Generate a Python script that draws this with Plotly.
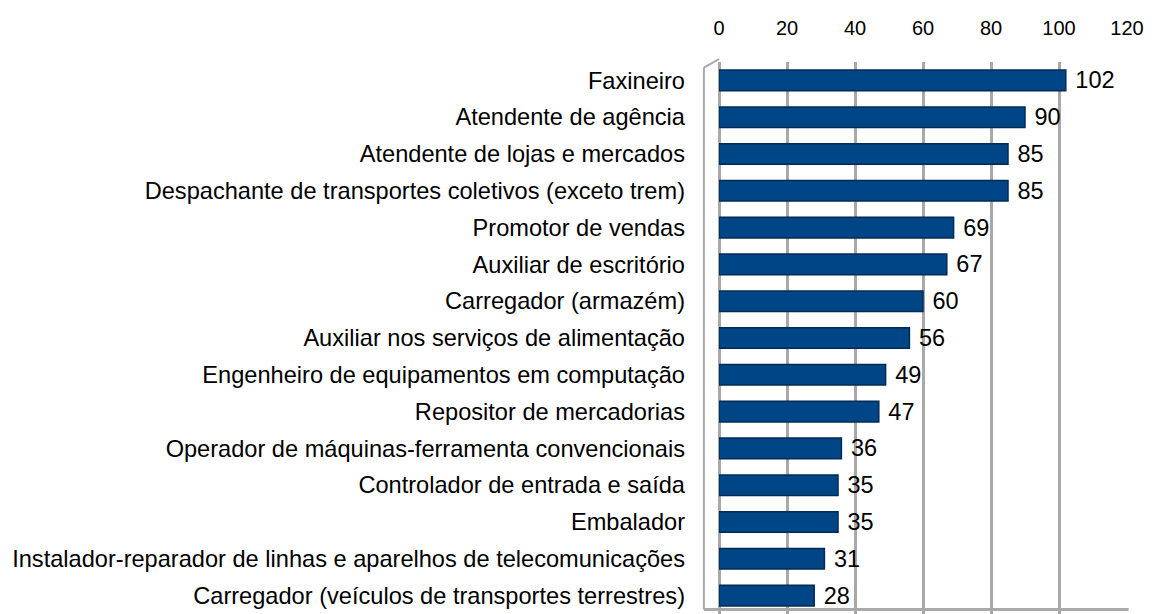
import plotly.graph_objects as go

categories = [
    "Faxineiro",
    "Atendente de agência",
    "Atendente de lojas e mercados",
    "Despachante de transportes coletivos (exceto trem)",
    "Promotor de vendas",
    "Auxiliar de escritório",
    "Carregador (armazém)",
    "Auxiliar nos serviços de alimentação",
    "Engenheiro de equipamentos em computação",
    "Repositor de mercadorias",
    "Operador de máquinas-ferramenta convencionais",
    "Controlador de entrada e saída",
    "Embalador",
    "Instalador-reparador de linhas e aparelhos de telecomunicações",
    "Carregador (veículos de transportes terrestres)",
]
values = [102, 90, 85, 85, 69, 67, 60, 56, 49, 47, 36, 35, 35, 31, 28]
x_ticks = [0, 20, 40, 60, 80, 100, 120]

FONT = "Liberation Sans, Arial, sans-serif"
GRID = "#a9a9a9"

fig = go.Figure()
fig.add_trace(go.Bar(
    y=categories,
    x=values,
    orientation="h",
    width=0.56,
    marker=dict(color="#004586", line=dict(color="#002b55", width=1.5)),
    text=[" " + str(v) for v in values],
    textposition="outside",
    constraintext="none",
    textfont=dict(size=23.5, color="black", family=FONT),
    cliponaxis=False,
    hoverinfo="x+y",
))

# page body has an 8px margin, so the figure is sized/offset to compensate
fig.update_layout(
    width=1144,
    height=606,
    margin=dict(l=711, r=25, t=54, b=0),
    paper_bgcolor="white",
    plot_bgcolor="white",
    showlegend=False,
    font=dict(family=FONT, size=20, color="black"),
)
fig.update_xaxes(
    range=[0, 120],
    tickvals=x_ticks,
    side="top",
    showgrid=True,
    gridcolor=GRID,
    gridwidth=3,
    zeroline=True,
    zerolinecolor=GRID,
    zerolinewidth=3,
    showline=False,
    ticklabelstandoff=22,
    tickfont=dict(size=20),
    automargin=False,
)
fig.update_yaxes(
    categoryorder="array",
    categoryarray=categories[::-1],
    showgrid=False,
    showline=False,
    zeroline=False,
    ticklabelstandoff=33,
    tickfont=dict(size=23.6),
    automargin=False,
)
# floor line and left wall (3D frame look)
fig.add_shape(type="line", xref="paper", yref="paper", x0=-0.037, x1=1.004, y0=0.008, y1=0.008,
              line=dict(color=GRID, width=3))
fig.add_shape(type="line", xref="paper", yref="paper", x0=-0.037, x1=-0.037, y0=0.008, y1=0.99,
              line=dict(color=GRID, width=2))
fig.add_shape(type="line", xref="paper", yref="paper", x0=-0.037, x1=0.0, y0=0.99, y1=1.005,
              line=dict(color=GRID, width=2))

fig.write_html("out.html")
